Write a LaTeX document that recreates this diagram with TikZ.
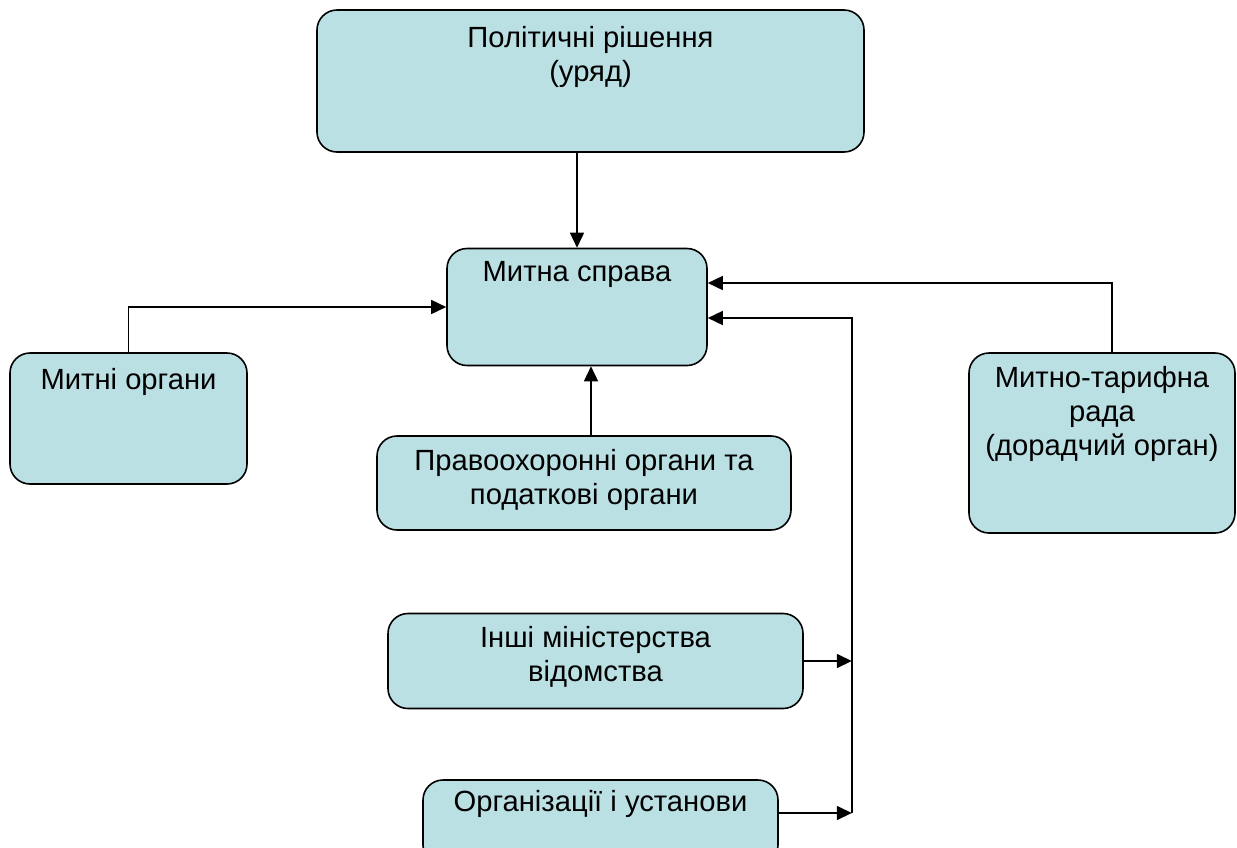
\documentclass[tikz,border=0pt]{standalone}
\usepackage{fontspec}
\setmainfont{Liberation Sans}
\usetikzlibrary{arrows.meta,positioning,calc}
\definecolor{boxfill}{RGB}{187,224,227}
\tikzset{
block/.style = {draw, fill=boxfill, rectangle, rounded corners=10pt, line width=0.8pt, inner sep=0pt},
txt/.style  = {anchor=north, align=center, yshift=-3.6pt, font=\fontsize{14.6}{17}\selectfont},
conn/.style = {line width=0.8pt}
}

\begin{document}
\begin{tikzpicture}[x=0.5pt, y=-0.5pt, >={Triangle[length=7.5pt,width=7pt]}]
    \path[use as bounding box, clip] (0,0) rectangle (1237,847);

    \node [block, minimum width=273.5pt, minimum height=71pt,
           label={[txt, yshift=-1.5pt]north:Політичні рішення\\(уряд)}] (pol) at (590.5,81) {};
    \node [block, minimum width=130pt, minimum height=58.5pt,
           label={[txt, yshift=0.25pt]north:Митна справа}] (ms) at (577,307) {};
    \node [block, minimum width=118.5pt, minimum height=65.5pt,
           label={[txt, yshift=-1pt]north:Митні органи}] (mo) at (128.5,418.5) {};
    \node [block, minimum width=207pt, minimum height=47pt,
           label={[txt]north:Правоохоронні органи та\\податкові органи}] (pravo) at (584,483) {};
    \node [block, minimum width=133pt, minimum height=90pt,
           label={[txt]north:Митно-тарифна\\рада\\(дорадчий орган)}] (rada) at (1102,443) {};
    \node [block, minimum width=207.5pt, minimum height=47.5pt,
           label={[txt, yshift=0.25pt]north:Інші міністерства\\відомства}] (inshi) at (595.5,661) {};
    \node [block, minimum width=177.5pt, minimum height=42.5pt,
           label={[txt, yshift=1.5pt]north:Організації і установи}] (org) at (600.5,822.5) {};

    \draw [conn, ->] (pol.south -| ms.north) -- (ms.north);
    \draw [conn, ->] (mo.north) |- (ms.west);
    \draw [conn, ->] ([xshift=3.5pt]pravo.north) -- ([xshift=3.5pt]pravo.north |- ms.south);
    \draw [conn, ->] ([xshift=5pt]rada.north) |- ([yshift=12pt]ms.east);

    % side line from the lower boxes
    \draw [conn, ->] ([yshift=4.75pt]org.east) -- ++(73,0) coordinate (bend);
    \draw [conn, ->] (inshi.east) -- (inshi.east -| bend);
    \draw [conn, ->] (bend) |- ([yshift=-5.5pt]ms.east);
\end{tikzpicture}
\end{document}
